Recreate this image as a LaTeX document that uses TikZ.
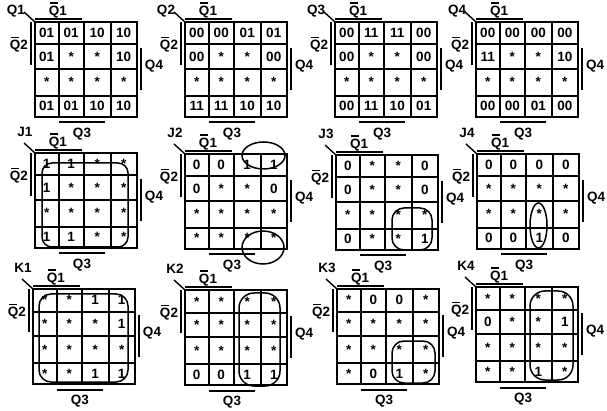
\documentclass[tikz,border=0pt]{standalone}
\usepackage{fontspec}
\setmainfont{Liberation Sans}
\usepackage{tikz}
\usetikzlibrary{positioning}
\newcommand\barQ{\ooalign{\hidewidth\rule[0.86em]{0.62em}{0.1em}\hidewidth\cr Q}}

\begin{document}
\begin{tikzpicture}[
  x=1pt, y=-1pt,
  every node/.style={font=\fontsize{13.5}{13.5}\selectfont\bfseries, inner sep=0pt,
                     text height=9.7pt, text depth=0pt},
  gridline/.style={line width=2pt},
  barline/.style={line width=2pt},
  diag/.style={line width=1.4pt},
  loopline/.style={line width=1.5pt}
]
\useasboundingbox[fill=white] (0,0) rectangle (607,411);

% Maps: name / grid corner / title offset / cells row by row
\foreach \nm/\gx/\gy/\tx/\ty/\ents in {
  Q1/35/22/-19/-12/{01,01,10,10,01,*,*,10,*,*,*,*,01,01,10,10},
  Q2/185/22/-19/-12/{00,00,01,01,00,*,*,00,*,*,*,*,11,11,10,10},
  Q3/335/22/-19/-12/{00,11,11,00,00,*,*,00,*,*,*,*,00,11,10,01},
  Q4/476/22/-19/-12/{00,00,00,00,11,*,*,10,*,*,*,*,00,00,01,00},
  J1/35/153/-10/-21/{1,1,*,*,1,*,*,*,*,*,*,*,1,1,*,*},
  J2/185/154/-10/-21/{0,0,1,1,0,*,*,0,*,*,*,*,*,*,*,*},
  J3/336/155/-10/-21/{0,*,*,0,0,*,*,0,*,*,*,*,0,*,*,1},
  J4/477/154/-10/-21/{0,0,0,0,*,*,*,*,*,*,*,*,0,0,1,0},
  K1/33/289/-10/-21/{*,*,1,1,*,*,*,1,*,*,*,*,*,*,1,1},
  K2/185/290/-10/-21/{*,*,*,*,*,*,*,*,*,*,*,*,0,0,1,1},
  K3/337/289/-10/-21/{*,0,0,*,*,*,*,*,*,*,*,*,*,0,1,*},
  K4/476/287/-10/-21/{*,*,*,*,0,*,*,1,*,*,*,*,*,*,1,*}%
}{
\begin{scope}[shift={(\gx,\gy)}]
  \coordinate (\nm-o) at (0,0);
  \coordinate (\nm-d) at (-11,-10);

  % grid
  \draw[gridline] (0,0) rectangle (102,95);
  \draw[gridline] (23.5,0) -- (23.5,95) (49,0) -- (49,95) (75.5,0) -- (75.5,95);
  \draw[gridline] (0,22.5) -- (102,22.5) (0,47) -- (102,47) (0,74) -- (102,74);

  % title and corner stroke
  \node (\nm-t) at (\tx,\ty) {\nm};
  \draw[diag] (\nm-d) -- (\nm-o);

  % variable bars
  \node (\nm-q1) at (23,-11.5) {\barQ1};
  \draw[barline] (0,-3) -- (47,-3);
  \node (\nm-q2) at (-16,23) {\barQ2};
  \draw[barline] (-4,0) -- (-4,43);
  \node (\nm-q4) at (119,43) {Q4};
  \draw[barline] (106,26) -- (106,68);
  \node (\nm-q3) at (47,111) {Q3};
  \draw[barline] (24,100.5) -- (70,100.5);

  % cells
  \foreach \v [count=\i from 0] in \ents {
    \pgfmathsetmacro{\cx}{{11.75,36.25,62.25,88.75}[mod(\i,4)]}
    \pgfmathsetmacro{\cy}{{16,39.5,65,89}[int(\i/4)]}
    \node[anchor=base] (\nm-c\i) at (\cx,\cy) {\v};
  }
\end{scope}
}

% groupings
\draw[loopline, rounded corners=10pt] ([shift={(7,10)}]J1-o) rectangle ([shift={(93,94)}]J1-o);
\draw[loopline] ([shift={(78.5,1.5)}]J2-o) ellipse [x radius=21.5pt, y radius=13.5pt];
\draw[loopline] ([shift={(78,93.5)}]J2-o) ellipse [x radius=21pt, y radius=16.5pt];
\draw[loopline, rounded corners=12pt] ([shift={(56,53)}]J3-o) rectangle ([shift={(96,95)}]J3-o);
\draw[loopline] ([shift={(61.5,71.5)}]J4-o) ellipse [x radius=8.5pt, y radius=22.5pt];
\draw[loopline, rounded corners=12pt] ([shift={(6,5)}]K1-o) rectangle ([shift={(95,93)}]K1-o);
\draw[loopline, rounded corners=15pt] ([shift={(54,3)}]K2-o) rectangle ([shift={(95,96)}]K2-o);
\draw[loopline, rounded corners=12pt] ([shift={(55,52)}]K3-o) rectangle ([shift={(98,94)}]K3-o);
\draw[loopline, rounded corners=15pt] ([shift={(54,4)}]K4-o) rectangle ([shift={(97,93)}]K4-o);

\end{tikzpicture}
\end{document}
